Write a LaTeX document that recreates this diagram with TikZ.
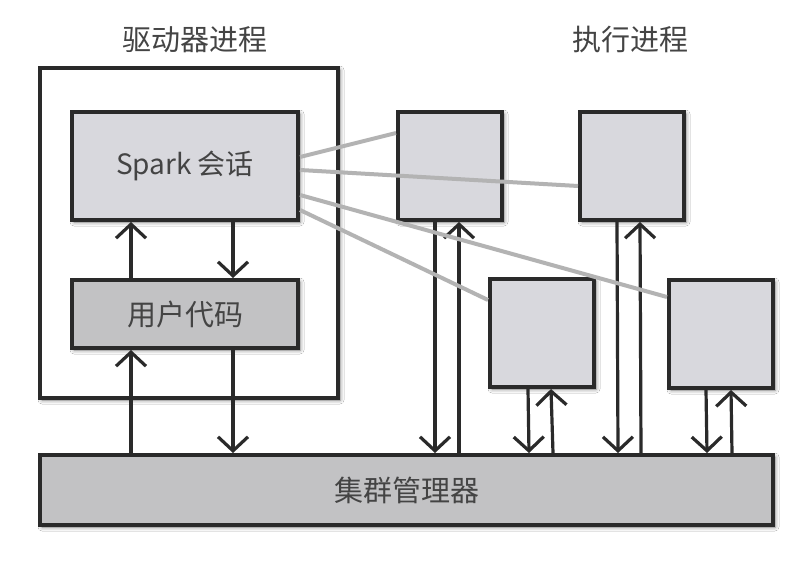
\documentclass[tikz,border=0pt]{standalone}
\usepackage{fontspec}
\setmainfont{Noto Sans CJK SC}
\usepackage{tikz}
\usetikzlibrary{arrows.meta}
\usetikzlibrary{shadows.blur}

\definecolor{boxline}{HTML}{2A2A2A}
\definecolor{textgrey}{HTML}{444444}
\definecolor{lightbox}{HTML}{D8D8DD}
\definecolor{darkbox}{HTML}{C2C2C4}
\definecolor{linkgrey}{HTML}{B3B3B3}

\begin{document}
\begin{tikzpicture}[x=1pt, y=-1pt,
        pbox/.style={draw=boxline, line width=4pt, inner sep=0pt, text=textgrey,
            font=\fontsize{29}{32}\selectfont,
            blur shadow={shadow xshift=2pt, shadow yshift=-2pt, shadow blur radius=4pt, shadow opacity=55}},
        title/.style={text=textgrey, font=\fontsize{29}{32}\selectfont},
        flow/.style={draw=boxline, line width=3.2pt, -{Straight Barb[length=14pt, width=30pt, line width=3.2pt]}},
        link/.style={draw=linkgrey, line width=4pt}]
        \useasboundingbox[fill=white] (0,0) rectangle (800,572);
        \node[title] (drivertitle) at (195,40) {驱动器进程};
        \node[title] (exectitle) at (630,40) {执行进程};
        \node[pbox, fill=white, minimum width=298pt, minimum height=330pt] (driver) at (189,233) {};
        \node[pbox, fill=lightbox, minimum width=226pt, minimum height=108pt, font=\fontsize{28}{32}\selectfont] (session) at (185,166) {Spark 会话};
        \node[pbox, fill=darkbox, minimum width=226pt, minimum height=68pt] (usercode) at (185,314) {用户代码};
        \node[pbox, fill=lightbox, minimum width=104pt, minimum height=108pt] (exA) at (450,166) {};
        \node[pbox, fill=lightbox, minimum width=104pt, minimum height=108pt] (exB) at (632,166) {};
        \node[pbox, fill=lightbox, minimum width=104pt, minimum height=108pt] (exC) at (542,333) {};
        \node[pbox, fill=lightbox, minimum width=104pt, minimum height=108pt] (exD) at (721,334) {};
        \node[pbox, fill=darkbox, minimum width=733pt, minimum height=70pt] (cluster) at (406.5,490) {集群管理器};
        % driver
        \draw[flow] ([xshift=61pt]usercode.north west) -- ([xshift=61pt]session.south west);
        \draw[flow] ([xshift=163pt]session.south west) -- ([xshift=163pt]usercode.north west);
        \draw[flow] ([xshift=93pt]cluster.north west) -- ([xshift=61pt]usercode.south west);
        \draw[flow] ([xshift=163pt]usercode.south west) -- ([xshift=195pt]cluster.north west);
        % executors
        \draw[flow] ([xshift=39pt]exA.south west) -- ([xshift=397pt]cluster.north west);
        \draw[flow] ([xshift=421pt]cluster.north west) -- ([xshift=63pt]exA.south west);
        \draw[flow] ([xshift=40pt]exC.south west) -- ([xshift=491pt]cluster.north west);
        \draw[flow] ([xshift=515pt]cluster.north west) -- ([xshift=63pt]exC.south west);
        \draw[flow] ([xshift=39pt]exB.south west) -- ([xshift=580pt]cluster.north west);
        \draw[flow] ([xshift=603pt]cluster.north west) -- ([xshift=62pt]exB.south west);
        \draw[flow] ([xshift=39pt]exD.south west) -- ([xshift=669pt]cluster.north west);
        \draw[flow] ([xshift=694pt]cluster.north west) -- ([xshift=64pt]exD.south west);
        % session to executors
        \draw[link] ([yshift=9pt]session.east) -- ([yshift=33pt]exA.west);
        \draw[link] ([yshift=-4pt]session.east) -- ([yshift=-20pt]exB.west);
        \draw[link] ([yshift=-29pt]session.east) -- ([yshift=37pt]exD.west);
        \draw[link] ([yshift=-44pt]session.east) -- ([yshift=33pt]exC.west);
    \end{tikzpicture}
\end{document}
